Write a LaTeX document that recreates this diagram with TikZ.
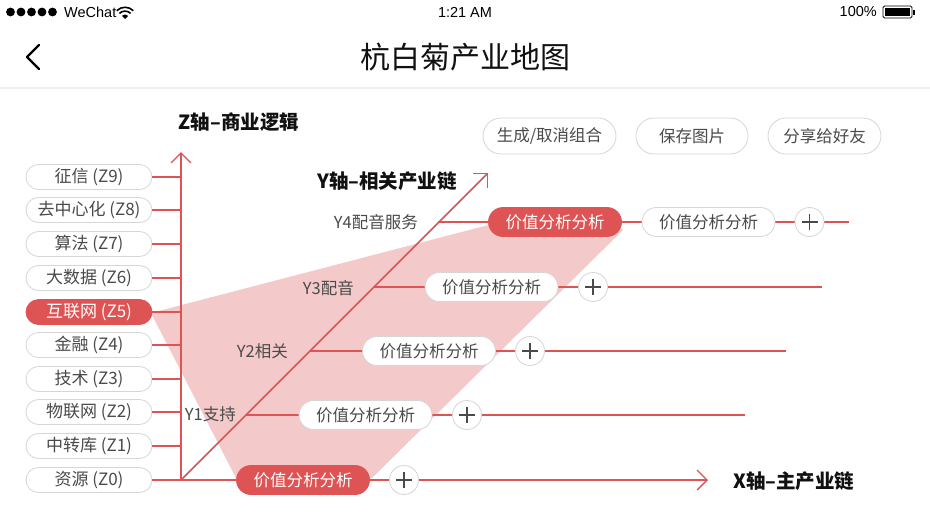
\documentclass[tikz,border=0pt]{standalone}
\usepackage{fontspec}
\setmainfont{Noto Sans CJK SC}
\newfontfamily\sysfont{Liberation Sans}
\usetikzlibrary{arrows.meta,calc}
\definecolor{redA}{HTML}{DE5353}
\definecolor{pinkA}{HTML}{F4C9CA}
\definecolor{pillgray}{HTML}{D6D6D6}
\definecolor{txtgray}{HTML}{4A4A4A}
\definecolor{sepgray}{HTML}{EFEFEF}
\definecolor{inkA}{HTML}{111111}
\newcommand\myfs[1]{\fontsize{#1}{#1}\selectfont}
\begin{document}
\begin{tikzpicture}[x=1pt,y=-1pt,
  axisline/.style={redA, line width=1.6pt, -{Straight Barb[length=10pt,width=20pt,line width=1.3pt]}},
  branch/.style={redA, line width=1.6pt},
  zpill/.style={draw=pillgray, fill=white, line width=0.8pt, rounded corners=12.5pt, minimum width=126pt, minimum height=25pt, inner sep=0pt, text=txtgray, font=\myfs{17}},
  zpillon/.style={zpill, draw=redA, fill=redA, text=white},
  vpill/.style={draw=pillgray, fill=white, line width=0.8pt, rounded corners=14.5pt, minimum width=133pt, minimum height=29pt, inner sep=0pt, text=txtgray, font=\myfs{16.5}},
  vpillon/.style={vpill, draw=redA, fill=redA, text=white},
  btn/.style={draw=pillgray, fill=white, line width=0.8pt, rounded corners=18pt, minimum height=36pt, inner sep=0pt, text=txtgray, font=\myfs{16.5}},
  plusbtn/.style={circle, draw=pillgray, fill=white, line width=0.8pt, minimum size=29pt, inner sep=0pt,
    path picture={\draw[txtgray, line width=1.1pt]
      ([xshift=-8pt]path picture bounding box.center) -- ([xshift=8pt]path picture bounding box.center)
      ([yshift=-8pt]path picture bounding box.center) -- ([yshift=8pt]path picture bounding box.center);}},
  ylab/.style={anchor=east, text=txtgray, font=\myfs{16.5}, inner sep=0pt},
  axlab/.style={text=inkA, font=\myfs{19.5}\bfseries, inner sep=0pt},
  sys/.style={text=black, font=\sysfont\myfs{14.5}, inner sep=0pt}
]
\useasboundingbox (0,0) rectangle (930,517);
\fill[white] (0,0) rectangle (930,517);

% status bar
\foreach \k in {0,...,4} {\fill[black] ({10.5+10.5*\k},12) circle (4.4pt);}
\node[sys, anchor=west] (wechat) at (64,12) {WeChat};
\coordinate (wifi) at (125,19);
\fill[black] (wifi) -- ++(3.2,-3.2) arc[start angle=45, end angle=135, radius=4.5pt] -- cycle;
\draw[black, line width=1.6pt] ($(wifi)+(5.6,-5.6)$) arc[start angle=45, end angle=135, radius=7.9pt];
\draw[black, line width=1.6pt] ($(wifi)+(8.3,-8.3)$) arc[start angle=45, end angle=135, radius=11.7pt];
\node[sys] (clock) at (465,12) {1:21 AM};
\node[sys, anchor=east] (pct) at (877,12) {100\%};
\draw[black, line width=0.8pt, rounded corners=1.5pt] (883,6) rectangle (912,18);
\fill[black] (885,8) rectangle (910,16);
\fill[black] (913,9.5) rectangle (915,14.5);

% nav bar
\draw[black, line width=2.2pt, line cap=round, line join=round] (39,45) -- (27,57) -- (39,69);
\node[text=inkA, font=\myfs{30}, inner sep=0pt] (title) at (465,57) {杭白菊产业地图};
\fill[sepgray] (0,87) rectangle (930,89);

% pink area
\fill[pinkA] (151,313) -- (500,222) -- (612,222) -- (623,230) -- (372,478) -- (236,478) -- cycle;

% axes
\coordinate (O) at (181,480);
\coordinate (ztop) at (181,152);
\coordinate (yend) at (488,173);
\coordinate (xend) at (708,480);
\draw[axisline] (O) -- (ztop);
\draw[axisline] (O) -- (yend);
\draw[axisline] (O) -- (xend);
\node[axlab] (zlab) at (239,122) {Z轴–商业逻辑};
\node[axlab] (ylabA) at (387,181) {Y轴–相关产业链};
\node[axlab, anchor=west] (xlab) at (733,481) {X轴–主产业链};

% Z pills
\foreach \i/\t/\yy in {0/资源/480,1/中转库/446,2/物联网/412,3/技术/379,4/金融/345,6/大数据/278,7/算法/244,8/去中心化/210,9/征信/177} {
  \node[zpill] (z\i) at (89,\yy) {\t\ (Z\i)};
  \draw[branch] (z\i.east) -- (z\i.east -| O);
}
\node[zpillon] (z5) at (89,312) {互联网 (Z5)};
\draw[branch] (z5.east) -- (z5.east -| O);

% Y rows
\coordinate (d1) at (246,415); \coordinate (e1) at (745,415);
\coordinate (d2) at (310,351); \coordinate (e2) at (786,351);
\coordinate (d3) at (374,287); \coordinate (e3) at (822,287);
\coordinate (d4) at (438,222); \coordinate (e4) at (849,222);
\foreach \k in {1,2,3,4} {\draw[branch] (d\k) -- (e\k);}
\node[ylab] (y1) at (236,414) {Y1支持};
\node[ylab] (y2) at (288,351) {Y2相关};
\node[ylab] (y3) at (354,288) {Y3配音};
\node[ylab] (y4) at (418,222) {Y4配音服务};

% value pills
\node[vpillon] (vx) at (303,480) {价值分析分析};
\node[plusbtn] (px) at (404,480) {};
\node[vpill] (v1) at (365.5,415) {价值分析分析};
\node[plusbtn] (p1) at (467,415) {};
\node[vpill] (v2) at (429,351) {价值分析分析};
\node[plusbtn] (p2) at (530,351) {};
\node[vpill] (v3) at (491.5,287) {价值分析分析};
\node[plusbtn] (p3) at (593,287) {};
\node[vpillon] (v4a) at (555,222) {价值分析分析};
\node[vpill] (v4b) at (708.5,222) {价值分析分析};
\node[plusbtn] (p4) at (809.5,222) {};

% top buttons
\node[btn, minimum width=133pt] (b1) at (549.5,136) {生成/取消组合};
\node[btn, minimum width=112pt] (b2) at (692,136) {保存图片};
\node[btn, minimum width=113pt] (b3) at (824.5,136) {分享给好友};
\end{tikzpicture}
\end{document}
